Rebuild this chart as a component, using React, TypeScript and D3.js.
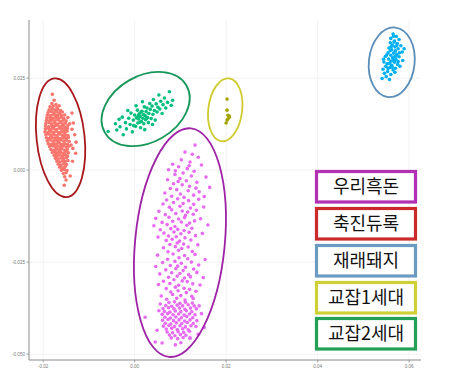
import React from "react";
import * as d3 from "d3";

// PCA coordinates, in units of 1e-3 (PC1, PC2)
const UNIT = 1e-3;

const groups = ["우리흑돈", "축진듀록", "재래돼지", "교잡1세대", "교잡2세대"];

const durocPts: number[][] = [
  [-18.0,20.6],[-17.6,19.0],[-18.1,18.1],[-17.2,17.8],[-18.5,17.2],[-17.8,17.4],[-17.0,17.0],[-16.5,17.5],
  [-18.7,16.4],[-18.0,16.7],[-17.4,16.3],[-16.8,16.6],[-16.2,16.2],
  [-18.9,15.7],[-18.2,15.9],[-17.6,15.6],[-17.0,15.9],[-16.4,15.5],[-15.8,15.8],[-13.7,15.5],
  [-19.1,15.0],[-18.4,14.8],[-17.8,15.1],[-17.2,14.9],[-16.6,15.2],[-16.0,14.8],[-15.3,15.0],
  [-19.2,14.2],[-18.5,14.4],[-17.9,14.1],[-17.3,14.3],[-16.7,14.0],[-16.1,14.4],[-15.5,14.1],[-14.6,14.3],
  [-19.3,13.5],[-18.6,13.3],[-18.0,13.6],[-17.4,13.4],[-16.8,13.7],[-16.2,13.3],[-15.6,13.6],[-15.0,13.4],
  [-19.4,12.7],[-18.7,12.9],[-18.1,12.6],[-17.5,12.8],[-16.9,12.5],[-16.3,12.9],[-15.7,12.6],[-15.1,12.8],[-14.2,12.6],[-13.4,12.8],
  [-19.5,12.0],[-18.8,11.8],[-18.2,12.1],[-17.6,11.9],[-17.0,12.2],[-16.4,11.8],[-15.8,12.0],[-15.2,11.7],[-14.6,12.1],
  [-19.5,11.2],[-18.9,11.4],[-18.3,11.1],[-17.7,11.3],[-17.1,11.0],[-16.5,11.4],[-15.9,11.2],[-15.3,11.0],[-14.7,11.3],[-13.7,11.1],
  [-19.6,10.4],[-19.0,10.2],[-18.4,10.5],[-17.8,10.3],[-17.2,10.6],[-16.6,10.2],[-16.0,10.5],[-15.4,10.3],[-14.8,10.6],
  [-19.4,9.6],[-18.8,9.8],[-18.2,9.5],[-17.6,9.7],[-17.0,9.4],[-16.4,9.8],[-15.8,9.5],[-15.2,9.7],[-14.6,9.4],[-13.1,9.6],
  [-19.3,8.8],[-18.7,8.6],[-18.1,8.9],[-17.5,8.7],[-16.9,9.0],[-16.3,8.6],[-15.7,8.9],[-15.1,8.7],[-14.5,8.9],
  [-19.1,8.0],[-18.5,8.2],[-17.9,7.9],[-17.3,8.1],[-16.7,7.8],[-16.1,8.2],[-15.5,7.9],[-14.9,8.1],[-14.3,7.8],[-12.8,7.6],
  [-18.9,7.2],[-18.3,7.0],[-17.7,7.3],[-17.1,7.1],[-16.5,7.4],[-15.9,7.0],[-15.3,7.2],[-14.7,7.0],[-13.9,6.8],
  [-18.6,6.4],[-18.0,6.6],[-17.4,6.3],[-16.8,6.5],[-16.2,6.2],[-15.6,6.6],[-15.0,6.3],[-14.4,6.5],
  [-18.3,5.6],[-17.7,5.4],[-17.1,5.7],[-16.5,5.5],[-15.9,5.8],[-15.3,5.4],[-14.7,5.6],[-13.5,5.9],
  [-18.0,4.8],[-17.4,5.0],[-16.8,4.7],[-16.2,4.9],[-15.6,4.6],[-15.0,5.0],[-14.5,4.7],[-12.9,4.6],
  [-17.6,4.0],[-17.0,3.8],[-16.4,4.1],[-15.8,3.9],[-15.2,4.2],[-14.7,3.8],
  [-17.3,3.2],[-16.7,3.0],[-16.1,3.3],[-15.5,3.1],[-14.9,3.4],
  [-17.0,2.4],[-16.4,2.2],[-15.8,2.5],[-15.2,2.3],[-14.6,2.6],[-13.6,2.4],
  [-16.7,1.6],[-16.1,1.4],[-15.5,1.7],[-14.9,1.5],
  [-16.4,0.8],[-15.8,0.6],[-15.2,0.9],
  [-16.0,0.0],[-15.4,0.2],[-14.8,-0.1],
  [-15.6,-0.9],[-15.0,-0.7],
  [-15.3,-1.8],[-14.1,-1.6],
  [-15.0,-2.7],[-15.4,-4.1],
  [-18.5,13.9],[-17.1,12.4],[-16.0,11.6],[-18.3,9.2],[-16.9,8.3],[-15.4,9.0],[-17.6,6.9],[-16.1,6.8],
  [-17.9,11.6],[-15.6,12.3],[-16.5,10.0],[-18.6,10.9],[-16.3,5.1],[-17.2,4.4],[-15.7,3.5],[-16.9,14.7],
];

const f1Pts: number[][] = [
  [20.2,19.3],[20.2,16.3],[20.4,14.9],[20.7,14.4],[20.4,13.9],[20.2,13.6],[20.0,12.8],[20.7,14.7],
];

const f2Pts: number[][] = [
  [-5.8,10.5],[-4.2,12.6],[-3.9,10.9],[-3.2,11.8],[-2.7,14.4],[-2.5,9.6],[-2.0,12.9],[-1.8,11.2],
  [-1.3,14.1],[-1.0,12.4],[-0.8,15.5],[-0.5,10.4],[-0.3,13.6],[0.0,15.0],[0.2,11.9],[0.4,14.2],
  [0.6,16.3],[0.7,12.8],[0.9,13.9],[1.0,15.3],[1.2,14.6],[1.3,11.5],[1.5,13.2],[1.6,16.0],
  [1.8,14.1],[1.9,15.1],[2.0,12.6],[2.1,17.2],[2.3,14.8],[2.4,13.7],[2.5,15.9],[2.7,16.9],
  [2.8,14.3],[3.0,12.9],[3.1,15.4],[3.3,18.1],[3.4,16.5],[3.6,14.0],[3.8,17.4],[4.0,15.2],
  [4.1,19.2],[4.3,16.2],[4.5,13.6],[4.7,18.0],[4.9,15.8],[5.1,17.1],[5.3,20.4],[5.5,16.6],
  [5.7,18.7],[6.0,15.4],[6.2,17.8],[6.5,19.6],[6.8,16.9],[7.2,18.4],[7.6,21.3],[8.0,17.6],
  [8.3,19.0],[-1.5,16.2],[0.3,17.5],[1.7,18.6],[-3.4,13.8],[2.2,11.0],[3.9,12.4],[-0.2,12.1],
  [1.1,13.0],[1.4,15.8],[2.6,14.0],[0.8,14.8],
];

const nativePts: number[][] = [
  [56.5,37.0],[57.2,36.3],[56.0,35.8],[57.8,35.5],[56.8,35.1],[55.9,34.6],[57.4,34.4],[56.3,34.0],
  [58.2,33.8],[56.9,33.5],[55.6,33.2],[57.6,33.0],[56.2,32.7],[57.0,32.4],[58.5,32.1],[55.4,31.9],
  [56.6,31.8],[57.3,31.5],[56.0,31.2],[54.8,30.9],[57.8,30.8],[56.4,30.5],[55.5,30.2],[57.1,30.1],
  [58.6,29.8],[56.0,29.6],[54.5,29.4],[56.8,29.3],[55.2,28.9],[57.5,28.7],[56.2,28.5],[54.9,28.2],
  [55.8,27.9],[57.0,27.7],[54.3,27.4],[56.5,27.2],[55.3,26.8],[54.6,26.3],[56.0,26.0],[55.0,25.4],
  [54.1,24.9],[55.7,24.6],[56.9,26.6],[58.0,28.2],[57.3,33.9],[56.6,36.4],[55.9,32.5],[56.9,30.9],
  [55.7,29.0],[57.9,31.9],[56.3,28.0],[56.7,34.8],[55.1,31.3],[57.6,29.5],[56.1,33.6],[54.4,30.1],
  [58.9,33.0],[55.4,27.6],[57.2,31.1],[56.5,29.9],
];

const blackPts: number[][] = [
  // upper sparse part
  [13.2,6.8],[11.0,4.9],[12.6,4.3],[13.9,3.5],[10.2,2.8],[12.1,2.2],[8.3,1.6],[14.6,1.4],[9.6,0.9],
  [11.5,0.4],[7.4,0.1],[13.0,-0.3],[10.6,-0.8],[8.8,-1.2],[12.4,-1.6],[15.6,-1.9],[9.9,-2.3],[7.2,-2.6],
  [11.3,-2.9],[13.6,-3.3],[8.5,-3.7],[10.4,-4.0],[12.0,-4.4],[16.4,-4.7],[7.8,-5.0],[9.2,-5.3],[11.7,-5.6],
  [14.1,-5.9],[6.6,-6.2],[10.0,-6.5],[12.9,-6.8],[8.1,-7.1],[15.2,-7.2],[9.5,-3.1],[11.9,1.2],[13.4,-4.9],
  [10.8,-7.4],[8.9,-0.2],
  // middle part
  [7.0,-8.1],[9.4,-7.8],[11.8,-8.3],[14.0,-7.9],
  [6.2,-9.2],[8.5,-8.8],[10.6,-9.1],[12.9,-9.3],
  [7.6,-10.1],[9.9,-9.8],[12.2,-10.3],[15.1,-10.0],
  [5.3,-11.2],[8.1,-10.8],[10.4,-11.1],[11.6,-11.4],[13.5,-10.9],
  [6.7,-12.1],[9.0,-11.8],[11.1,-12.3],[12.8,-12.0],
  [4.6,-13.1],[7.5,-12.8],[9.6,-13.3],[10.9,-12.9],[14.4,-13.2],
  [6.0,-14.2],[8.3,-13.9],[10.2,-14.1],[12.0,-14.4],[13.1,-13.8],
  [4.2,-15.1],[7.1,-14.8],[8.8,-15.3],[11.4,-15.0],[16.0,-14.9],
  [5.6,-16.2],[7.9,-15.9],[9.4,-16.1],[10.8,-16.4],[12.5,-15.8],
  [6.4,-17.1],[8.6,-16.8],[10.1,-17.3],[11.9,-16.9],[14.8,-17.2],
  [5.1,-18.2],[7.4,-17.9],[9.1,-18.1],[11.0,-18.4],[13.3,-17.8],
  [6.9,-19.1],[8.2,-18.8],[9.8,-19.3],[12.3,-19.0],
  [7.7,-20.2],[9.3,-19.8],[10.7,-20.1],[13.8,-20.3],
  [6.3,-21.1],[8.9,-20.8],[10.3,-21.3],[11.7,-20.9],
  [7.3,-22.2],[9.6,-21.8],[12.6,-22.1],
  // lower-middle part
  [5.0,-23.1],[8.4,-22.8],[10.9,-23.2],[13.2,-22.9],
  [7.2,-24.2],[9.7,-23.8],[11.6,-24.1],[15.4,-24.3],
  [6.1,-25.1],[8.8,-24.8],[10.2,-25.3],[12.4,-25.0],
  [4.6,-26.2],[7.8,-25.9],[9.4,-26.1],[11.1,-26.4],[14.0,-25.8],
  [6.8,-27.1],[9.0,-26.8],[10.6,-27.3],[12.9,-26.9],
  [5.5,-28.2],[8.1,-27.9],[9.9,-28.1],[11.8,-28.4],[13.6,-27.8],
  [7.4,-29.1],[9.3,-28.8],[10.9,-29.3],[12.2,-29.0],[15.0,-29.2],
  [6.3,-30.2],[8.6,-29.8],[10.4,-30.1],[11.5,-30.3],
  [5.2,-31.1],[7.7,-30.8],[9.6,-31.3],[12.7,-30.9],[14.3,-31.2],
  [6.9,-32.2],[8.9,-31.8],[10.8,-32.1],[12.0,-32.4],
  [7.9,-33.1],[9.5,-32.8],[11.3,-33.3],[13.4,-32.9],
  [5.8,-34.2],[8.3,-33.8],[10.1,-34.1],[12.5,-34.3],
  [7.0,-35.1],[9.2,-34.8],[11.0,-35.3],[12.8,-34.9],
  // dense bottom core
  [7.5,-36.0],[8.7,-35.8],[9.9,-36.2],[11.1,-35.9],[12.6,-36.1],
  [6.8,-36.8],[8.1,-37.0],[9.3,-36.7],[10.5,-36.9],[11.7,-36.6],[13.0,-36.9],
  [6.2,-37.6],[7.4,-37.4],[8.6,-37.7],[9.8,-37.5],[11.0,-37.8],[12.2,-37.5],[13.5,-37.7],
  [6.5,-38.4],[7.7,-38.6],[8.9,-38.3],[10.1,-38.5],[11.3,-38.2],[12.5,-38.5],
  [6.0,-39.2],[7.2,-39.0],[8.4,-39.3],[9.6,-39.1],[10.8,-39.4],[12.0,-39.1],[13.2,-39.3],
  [6.6,-40.0],[7.8,-40.2],[9.0,-39.9],[10.2,-40.1],[11.4,-39.8],[12.7,-40.1],
  [6.1,-40.8],[7.3,-40.6],[8.5,-40.9],[9.7,-40.7],[10.9,-41.0],[12.1,-40.7],[13.6,-40.9],
  [6.7,-41.6],[7.9,-41.8],[9.1,-41.5],[10.3,-41.7],[11.5,-41.4],[12.8,-41.7],
  [6.3,-42.4],[7.5,-42.2],[8.7,-42.5],[9.9,-42.3],[11.1,-42.6],[12.3,-42.3],[13.4,-42.5],
  [6.9,-43.2],[8.1,-43.0],[9.3,-43.3],[10.5,-43.1],[11.7,-43.4],
  [7.1,-44.0],[8.3,-44.2],[9.5,-43.9],[10.7,-44.1],[12.0,-43.8],
  [7.6,-44.8],[8.8,-45.0],[10.0,-44.7],[11.2,-44.9],
  [8.0,-45.6],[9.4,-45.8],[10.6,-45.5],[12.1,-45.7],
  [2.3,-40.0],[4.5,-46.7],[5.3,-38.2],[4.9,-43.5],[8.9,-47.5],[12.1,-45.6],[14.6,-39.0],
  [15.2,-42.8],[13.9,-44.6],[5.6,-36.4],[14.1,-36.9],[6.0,-47.0],[10.1,-46.9],
];

// confidence ellipses: centre (PC1, PC2), semi-axes (PC1 units, PC2 units), tilt in degrees
const ellipseCx = [9.9, -16.2, 56.2, 19.8, 2.4];
const ellipseCy = [-19.7, 8.8, 29.3, 16.4, 16.6];
const ellipseRx = [9.8, 5.25, 5.0, 3.7, 10.3];
const ellipseRy = [31.2, 16.2, 9.5, 8.6, 9.0];
const ellipseAngle = [5.5, -6, 6, 7, -30];

const xTicks = [-0.02, 0.0, 0.02, 0.04, 0.06];
const xTickLabels = ["-0.02", "0.00", "0.02", "0.04", "0.06"];
const yTicks = [0.025, 0.0, -0.025, -0.05];
const yTickLabels = ["0.025", "0.000", "-0.025", "-0.050"];

const pointColors = ["#E76BF3", "#F8766D", "#00B0F6", "#A3A500", "#00BF7D"];
const ellipseColors = ["#9E22A6", "#A8171B", "#5A8DB8", "#CFCB2E", "#17975A"];
const legendColors = ["#B130B3", "#CC2A2A", "#6B9BC3", "#CFCF38", "#21A056"];

const groupPoints = [blackPts, durocPts, nativePts, f1Pts, f2Pts];
const drawOrder = [1, 3, 4, 2, 0];

export default function App() {
  const W = 455, H = 392;
  const left = 29, right = 421, top = 20, bottom = 360;
  const x = d3.scaleLinear().domain([-0.0231, 0.0626]).range([left, right]);
  const y = d3.scaleLinear().domain([-0.0516, 0.0408]).range([bottom, top]);

  const legX = 316.5, legW = 99, legH = 30.5;
  const legY = [171.5, 208.5, 245.5, 282.5, 318.5];

  return (
    <svg width={W} height={H} style={{ position: "absolute", left: 0, top: 0, background: "#fff" }}
      fontFamily="Liberation Sans, Arial, sans-serif">
      <rect width={W} height={H} fill="#fff" />
      {/* grid */}
      {xTicks.map((t, i) => (
        <line key={"gx" + i} x1={x(t)} x2={x(t)} y1={top} y2={bottom} stroke="#EFEFEF" strokeWidth={0.8} />
      ))}
      {yTicks.map((t, i) => (
        <line key={"gy" + i} x1={left} x2={right} y1={y(t)} y2={y(t)} stroke="#EFEFEF" strokeWidth={0.8} />
      ))}
      {/* points */}
      {drawOrder.map((g) => (
        <g key={"pts" + g} fill={pointColors[g]}>
          {groupPoints[g].map((p, j) => (
            <circle key={j} cx={x(p[0] * UNIT)} cy={y(p[1] * UNIT)} r={1.8} />
          ))}
        </g>
      ))}
      {/* ellipses */}
      {groups.map((gname, g) => {
        const cx = x(ellipseCx[g] * UNIT);
        const cy = y(ellipseCy[g] * UNIT);
        const rx = x(ellipseRx[g] * UNIT) - x(0);
        const ry = y(0) - y(ellipseRy[g] * UNIT);
        return (
          <ellipse key={"el" + gname} cx={cx} cy={cy} rx={rx} ry={ry}
            transform={`rotate(${ellipseAngle[g]} ${cx} ${cy})`}
            fill="none" stroke={ellipseColors[g]} strokeWidth={1.8} />
        );
      })}
      {/* axes */}
      <line x1={left} x2={left} y1={top} y2={bottom} stroke="#8A8A8A" strokeWidth={1} />
      <line x1={left} x2={right} y1={bottom} y2={bottom} stroke="#8A8A8A" strokeWidth={1} />
      {yTicks.map((t, i) => (
        <g key={"yt" + i}>
          <line x1={left - 2.5} x2={left} y1={y(t)} y2={y(t)} stroke="#8A8A8A" strokeWidth={0.8} />
          <text x={left - 4} y={y(t)} dy="0.35em" textAnchor="end" fontSize={4.6} fill="#7A7A7A">
            {yTickLabels[i]}
          </text>
        </g>
      ))}
      {xTicks.map((t, i) => (
        <g key={"xt" + i}>
          <line x1={x(t)} x2={x(t)} y1={bottom} y2={bottom + 2.5} stroke="#8A8A8A" strokeWidth={0.8} />
          <text x={x(t)} y={bottom + 7.5} textAnchor="middle" fontSize={4.6} fill="#7A7A7A">
            {xTickLabels[i]}
          </text>
        </g>
      ))}
      {/* legend boxes */}
      {groups.map((gname, g) => (
        <g key={"lg" + gname}>
          <rect x={legX} y={legY[g]} width={legW} height={legH} fill="#fff"
            stroke={legendColors[g]} strokeWidth={3.2} />
          <text x={legX + legW / 2} y={legY[g] + legH / 2} dy="0.36em" textAnchor="middle"
            fontSize={18} fill="#111" fontFamily="Noto Sans CJK KR, sans-serif">
            {gname}
          </text>
        </g>
      ))}
    </svg>
  );
}
